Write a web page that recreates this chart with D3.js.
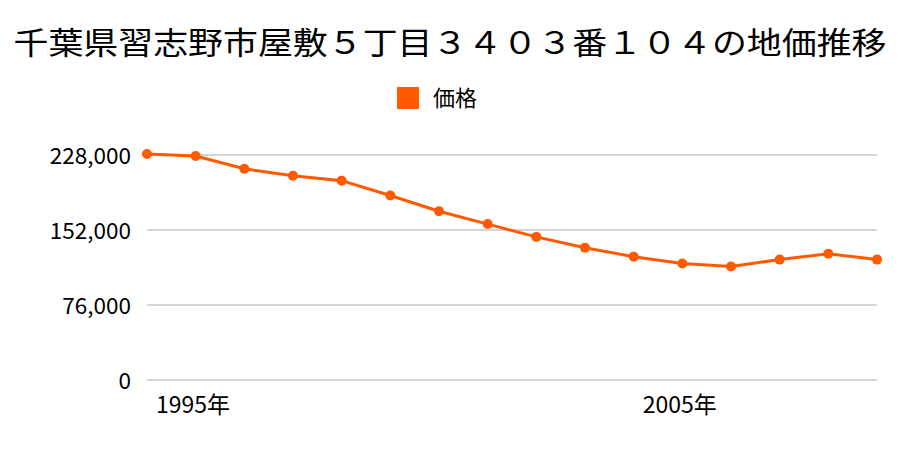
<!DOCTYPE html>
<html><head><meta charset="utf-8">
<script src="https://cdn.jsdelivr.net/npm/d3@7"></script>
<style>body{margin:0;background:#fff}</style>
</head><body><svg id="c" width="900" height="450"></svg>
<script>
const years = [1995,1996,1997,1998,1999,2000,2001,2002,2003,2004,2005,2006,2007,2008,2009,2010];
const prices = [229000,227000,214000,207000,202000,187000,171000,158000,145000,134000,125000,118000,115000,122000,128000,122000];
const yTicks = [0,76000,152000,228000];
const xLabelYears = [1995,2005];
const title = "千葉県習志野市屋敷５丁目３４０３番１０４の地価推移";
const seriesName = "価格";
const color = "#ff5a00";
const font = "'Noto Sans CJK JP','Noto Sans',sans-serif";

const svg = d3.select("#c");
const x = d3.scaleLinear().domain([1995,2010]).range([147,877]);
const y = d3.scaleLinear().domain([0,228000]).range([380,155]);

svg.append("text").attr("x",450).attr("y",54).attr("text-anchor","middle")
  .attr("font-family",font).attr("font-size",31).attr("fill","#000")
  .attr("textLength",873).attr("lengthAdjust","spacingAndGlyphs").text(title);

svg.append("rect").attr("x",397).attr("y",87).attr("width",22).attr("height",22).attr("fill",color);
svg.append("text").attr("x",433).attr("y",106).attr("font-family",font).attr("font-size",22).text(seriesName);

const g = svg.append("g");
g.selectAll("line.grid").data(yTicks).join("line")
  .attr("x1",147).attr("x2",877).attr("y1",d=>y(d)).attr("y2",d=>y(d))
  .attr("stroke","#aaa").attr("stroke-width",1);
g.selectAll("text.yt").data(yTicks).join("text")
  .attr("x",131).attr("y",d=>y(d)+9).attr("text-anchor","end")
  .attr("font-family",font).attr("font-size",22.5).text(d=>d3.format(",")(d));
g.selectAll("text.xt").data(xLabelYears).join("text")
  .attr("x",d=>x(d)+9).attr("y",413)
  .attr("font-family",font).attr("font-size",23).text(d=>d+"年");

const data = years.map((yr,i)=>({yr,v:prices[i]}));
g.append("path").datum(data).attr("fill","none").attr("stroke",color).attr("stroke-width",3)
  .attr("d",d3.line().x(d=>x(d.yr)).y(d=>y(d.v)));
g.selectAll("circle").data(data).join("circle")
  .attr("cx",d=>x(d.yr)).attr("cy",d=>y(d.v)).attr("r",5).attr("fill",color);
</script></body></html>
